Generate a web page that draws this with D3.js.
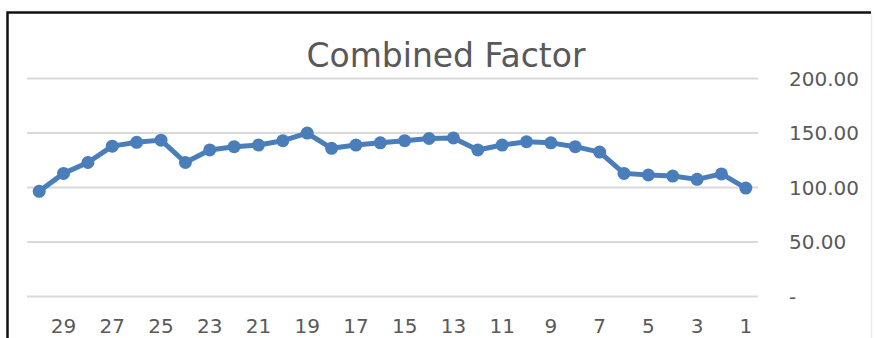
<!DOCTYPE html>
<html>
<head>
<meta charset="utf-8">
<script src="https://cdn.jsdelivr.net/npm/d3@7"></script>
<style>
  html, body { margin: 0; padding: 0; background: #fff; }
  svg { display: block; }
</style>
</head>
<body>
<svg id="chart" width="875" height="338"></svg>
<script>
// Categories (shown right-to-left order as in the reference: 30 ... 1)
const categories = [30,29,28,27,26,25,24,23,22,21,20,19,18,17,16,15,14,13,12,11,10,9,8,7,6,5,4,3,2,1];
const values = [96, 112.5, 122.5, 137.5, 141, 143, 122.5, 134, 137, 138.5, 142.5, 149.5, 135.5, 138.5, 140.5,
                142.5, 144.5, 145, 134, 138.5, 141.5, 140.5, 137, 132, 112.5, 111, 110, 107, 112, 99];
const xTickLabels = [29,27,25,23,21,19,17,15,13,11,9,7,5,3,1];
const yTicks = [0, 50, 100, 150, 200];
const title = "Combined Factor";

(function () {
const svg = d3.select("#chart");
const plotLeft = 27, plotRight = 758, plotTop = 78, plotBottom = 296;

const x = d3.scaleBand().domain(categories).range([plotLeft, plotRight]);
const y = d3.scaleLinear().domain([0, 200]).range([plotBottom, plotTop]);
const cx = c => x(c) + x.bandwidth() / 2;

svg.append("rect").attr("width", 875).attr("height", 338).attr("fill", "#fff");

// frame: faint right edge, black top and left edges
svg.append("line")
  .attr("x1", 871.5).attr("x2", 871.5).attr("y1", 13).attr("y2", 338)
  .attr("stroke", "#ececec").attr("stroke-width", 1.5);
svg.append("path")
  .attr("d", "M7.5,338 L7.5,12.5 L871,12.5")
  .attr("fill", "none").attr("stroke", "#111").attr("stroke-width", 2.5);

// title
svg.append("text")
  .attr("x", 446).attr("y", 67)
  .attr("text-anchor", "middle")
  .attr("font-family", "DejaVu Sans, sans-serif")
  .attr("font-size", 33)
  .attr("fill", "#595959")
  .text(title);

// gridlines + right axis labels
const yAxis = d3.axisRight(y)
  .tickValues(yTicks)
  .tickSize(-(plotRight - plotLeft))
  .tickPadding(0)
  .tickFormat(v => v === 0 ? "-" : d3.format(".2f")(v));
const gy = svg.append("g").attr("transform", `translate(${plotRight},0)`).call(yAxis);
gy.select(".domain").remove();
gy.selectAll(".tick line").attr("stroke", "#d9d9d9").attr("stroke-width", 2);
gy.selectAll(".tick text")
  .attr("x", 31)
  .attr("dy", "0.36em")
  .attr("font-family", "DejaVu Sans, sans-serif")
  .attr("font-size", 20)
  .attr("fill", "#595959")
  .attr("text-anchor", "start");

// bottom axis labels
const xAxis = d3.axisBottom(x)
  .tickValues(xTickLabels)
  .tickSize(0)
  .tickPadding(0);
const gx = svg.append("g").attr("transform", `translate(0,${plotBottom})`).call(xAxis);
gx.select(".domain").remove();
gx.selectAll(".tick text")
  .attr("y", 37)
  .attr("dy", 0)
  .attr("font-family", "DejaVu Sans, sans-serif")
  .attr("font-size", 20)
  .attr("fill", "#595959");

// line
const data = categories.map((c, i) => ({ c, v: values[i] }));
const line = d3.line().x(d => cx(d.c)).y(d => y(d.v));
svg.append("path")
  .datum(data)
  .attr("d", line)
  .attr("fill", "none")
  .attr("stroke", "#4A7EBB")
  .attr("stroke-width", 5)
  .attr("stroke-linejoin", "round");

svg.append("g").selectAll("circle")
  .data(data)
  .join("circle")
  .attr("cx", d => cx(d.c))
  .attr("cy", d => y(d.v))
  .attr("r", 6.5)
  .attr("fill", "#4A7EBB");
})();
</script>
</body>
</html>
